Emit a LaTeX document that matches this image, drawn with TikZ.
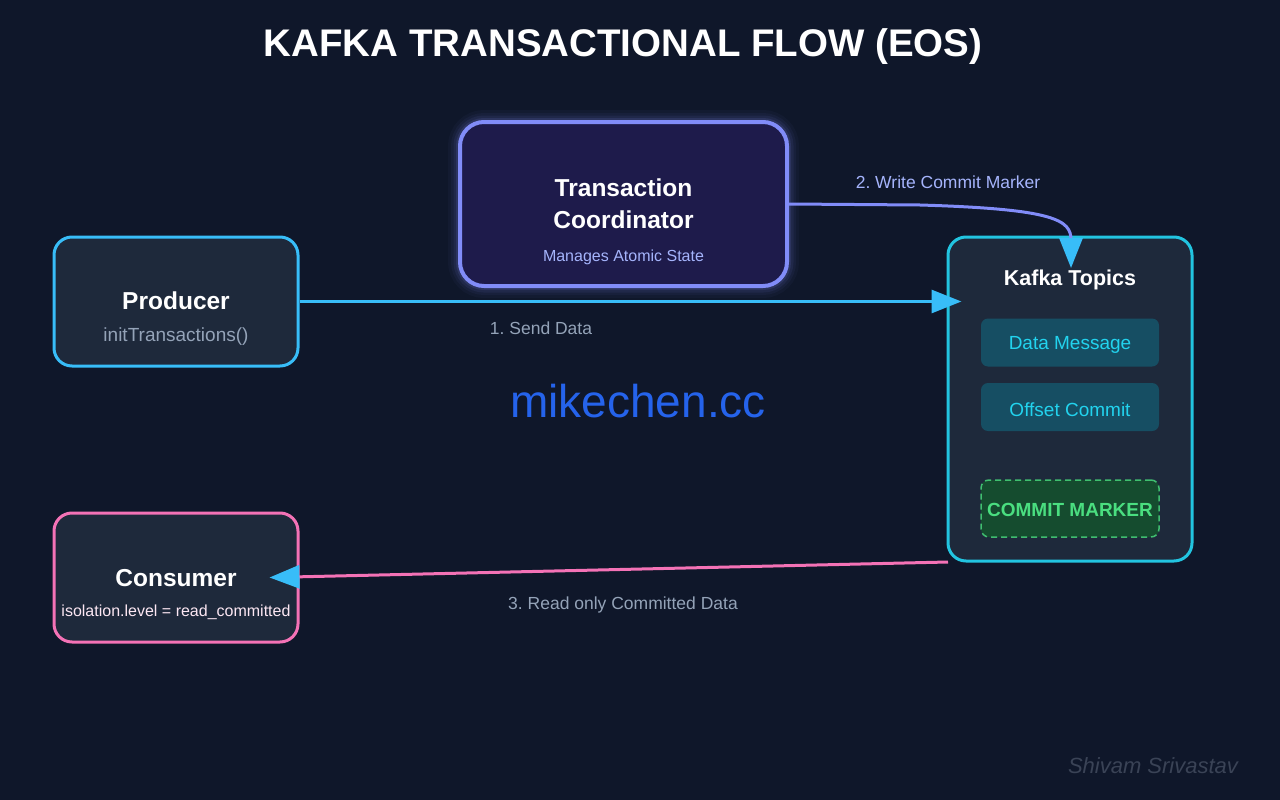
\documentclass[tikz,border=0pt]{standalone}
\usepackage{fontspec}
\setmainfont{Liberation Sans}
\usetikzlibrary{arrows.meta}
\frenchspacing
\definecolor{bg}{HTML}{0F172A}
\definecolor{boxfill}{HTML}{1E293B}
\definecolor{coordfill}{HTML}{1E1B4B}
\definecolor{indigoB}{HTML}{818CF8}
\definecolor{indigoT}{HTML}{A5B4FC}
\definecolor{sky}{HTML}{38BDF8}
\definecolor{cyanB}{HTML}{22C4E0}
\definecolor{cyanT}{HTML}{22D3EE}
\definecolor{cyanFill}{HTML}{164E63}
\definecolor{pinkB}{HTML}{F472B6}
\definecolor{pinkT}{HTML}{FCE7F3}
\definecolor{slateT}{HTML}{94A3B8}
\definecolor{greenFill}{HTML}{14532D}
\definecolor{greenB}{HTML}{4ADE80}
\definecolor{wm}{HTML}{3A4356}
\definecolor{mc}{HTML}{2563EB}
\tikzset{
  panel/.style={draw, rounded corners=18pt, fill=boxfill, line width=3pt, inner sep=0pt},
  chip/.style={rounded corners=7pt, fill=cyanFill, minimum width=178pt, minimum height=48pt, inner sep=0pt},
  heading/.style={text=white, font=\bfseries\fontsize{24.5}{28}\selectfont, inner sep=0pt},
  flowlabel/.style={font=\fontsize{17.5}{20}\selectfont, inner sep=0pt},
}
\begin{document}
\begin{tikzpicture}[x=1pt,y=-1pt]
\fill[bg] (0,0) rectangle (1280,800);
\useasboundingbox (0,0) rectangle (1280,800);

% title
\node[text=white, font=\bfseries\fontsize{38.5}{44}\selectfont, inner sep=0pt] (title) at (623,47) {KAFKA TRANSACTIONAL FLOW (EOS)};

% coordinator glow
\foreach \w/\o in {24/0.035,18/0.05,13/0.08,8/0.13}{
  \draw[indigoB, line width=\w pt, opacity=\o, rounded corners=24pt] (460,122) rectangle (787,286);
}
\node[draw=indigoB, fill=coordfill, line width=4pt, rounded corners=24pt, minimum width=327pt, minimum height=164pt, inner sep=0pt] (coord) at (623.5,204) {};
\node[heading, align=center, font=\bfseries\fontsize{24.5}{32}\selectfont] (coordt) at (623.5,204) {Transaction\\Coordinator};
\node[text=indigoT, font=\fontsize{16}{19}\selectfont, inner sep=0pt] (coords) at (623.5,257) {Manages Atomic State};

% producer
\node[panel, draw=sky, minimum width=244pt, minimum height=129pt] (prod) at (176,301.5) {};
\node[heading] (prodt) at (176,301) {Producer};
\node[text=slateT, font=\fontsize{19}{22}\selectfont, inner sep=0pt] (prods) at (176,337) {initTransactions()};

% consumer
\node[panel, draw=pinkB, minimum width=244pt, minimum height=129pt] (cons) at (176,577.5) {};
\node[heading] (const) at (176,578) {Consumer};
\node[text=pinkT, font=\fontsize{16}{19}\selectfont, inner sep=0pt] (conss) at (176,612.5) {isolation.level = read\_committed};

% kafka
\node[panel, draw=cyanB, minimum width=244pt, minimum height=324pt] (kafka) at (1070,399) {};
\node[text=white, font=\bfseries\fontsize{21.5}{25}\selectfont, inner sep=0pt] (kafkat) at (1070,280) {Kafka Topics};
\node[chip] (data) at (1070,342.5) {};
\node[text=cyanT, font=\fontsize{19}{22}\selectfont, inner sep=0pt] (datat) at (1070,345) {Data Message};
\node[chip] (offset) at (1070,407) {};
\node[text=cyanT, font=\fontsize{19}{22}\selectfont, inner sep=0pt] (offsett) at (1070,409.5) {Offset Commit};
\node[draw=greenB, dashed, dash pattern=on 6pt off 4pt, line width=1.5pt, rounded corners=8pt, fill=greenFill, fill opacity=0.85, draw opacity=0.8, minimum width=178pt, minimum height=57pt, inner sep=0pt] (marker) at (1070,508.5) {};
\node[text=greenB, font=\bfseries\fontsize{19}{22}\selectfont, inner sep=0pt] (markert) at (1070,510) {COMMIT MARKER};

% watermark
\node[text=mc, font=\fontsize{46}{52}\selectfont, inner sep=0pt] (mike) at (638,401) {mikechen.cc};
\node[text=wm, font=\itshape\fontsize{22}{26}\selectfont, inner sep=0pt] (sig) at (1153,766) {Shivam Srivastav};

% connectors
\coordinate (sendEnd) at ([xshift=15pt]kafka.west |- prod.east);
\draw[sky, line width=3pt, -{Triangle[length=30pt,width=23pt,fill=sky]}] (prod.east) -- (sendEnd);
\node[text=slateT, flowlabel] (l1) at (541,328) {1. Send Data};

\coordinate (commitEnd) at (1071,268);
\draw[indigoB, line width=3pt, -{Triangle[length=30pt,width=23pt,color=sky,fill=sky]}] (coord.east) -- (920,205) .. controls (1055,209) and (1071,220) .. (1071,240) -- (commitEnd);
\node[text=indigoT, flowlabel] (l2) at (948,182) {2. Write Commit Marker};

\coordinate (readStart) at (948,562);
\coordinate (readEnd) at ([xshift=-30pt]cons.east);
\draw[pinkB, line width=3pt, -{Triangle[length=30pt,width=23pt,color=sky,fill=sky]}] (readStart) -- (readEnd);
\node[text=slateT, flowlabel] (l3) at (623,605) {3. Read only Committed Data};
\end{tikzpicture}
\end{document}
